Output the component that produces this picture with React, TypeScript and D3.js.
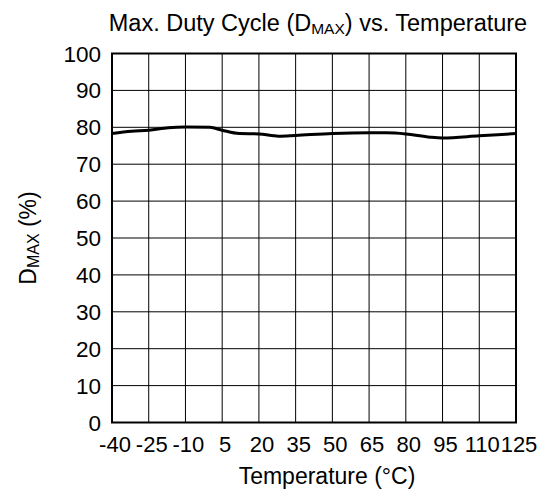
import React, { useEffect, useRef } from "react";
import * as d3 from "d3";

const xTicks = [-40, -25, -10, 5, 20, 35, 50, 65, 80, 95, 110, 125];
const yTicks = [0, 10, 20, 30, 40, 50, 60, 70, 80, 90, 100];
const temps = [-40, -32, -25, -17, -10, 0, 5, 12, 20, 28, 35, 50, 65, 72, 80, 90, 95, 110, 125];
const dmax = [78.3, 78.9, 79.2, 79.9, 80.1, 80.0, 79.2, 78.3, 78.2, 77.6, 77.8, 78.3, 78.5, 78.5, 78.2, 77.3, 77.1, 77.7, 78.3];

const W = 548, H = 489;
const m = { left: 112, right: 516, top: 53.5, bottom: 422.5 };
const FONT = "'Liberation Sans', Arial, sans-serif";

export default function App() {
  const ref = useRef<SVGSVGElement>(null);
  useEffect(() => {
    const svg = d3.select(ref.current);
    svg.selectAll("*").remove();
    const x = d3.scaleLinear().domain([-40, 125]).range([m.left, m.right]);
    const y = d3.scaleLinear().domain([0, 100]).range([m.bottom, m.top]);

    const g = svg.append("g");
    // grid
    g.selectAll(".vg").data(xTicks).enter().append("line")
      .attr("x1", d => x(d)).attr("x2", d => x(d))
      .attr("y1", m.top).attr("y2", m.bottom)
      .attr("stroke", "#000").attr("stroke-width", 1);
    g.selectAll(".hg").data(yTicks).enter().append("line")
      .attr("x1", m.left).attr("x2", m.right)
      .attr("y1", d => y(d)).attr("y2", d => y(d))
      .attr("stroke", "#000").attr("stroke-width", 1);
    // border
    g.append("rect").attr("x", m.left).attr("y", m.top)
      .attr("width", m.right - m.left).attr("height", m.bottom - m.top)
      .attr("fill", "none").attr("stroke", "#000").attr("stroke-width", 2);

    // tick labels
    g.selectAll(".yl").data(yTicks).enter().append("text")
      .attr("x", m.left - 11).attr("y", d => y(d) + 8)
      .attr("text-anchor", "end").attr("font-family", FONT).attr("font-size", 22.5)
      .text(d => String(d));
    g.selectAll(".xl").data(xTicks).enter().append("text")
      .attr("x", d => x(d) + 3).attr("y", 452)
      .attr("text-anchor", "middle").attr("font-family", FONT).attr("font-size", 22)
      .text(d => String(d));

    // data line
    const line = d3.line<number>()
      .x((_, i) => x(temps[i])).y(d => y(d))
      .curve(d3.curveMonotoneX);
    g.append("path").datum(dmax).attr("d", line)
      .attr("fill", "none").attr("stroke", "#000").attr("stroke-width", 3);

    // title
    const t = g.append("text").attr("x", 318).attr("y", 31)
      .attr("text-anchor", "middle").attr("font-family", FONT).attr("font-size", 23.5);
    t.append("tspan").text("Max. Duty Cycle (D");
    t.append("tspan").attr("font-size", 15.5).attr("dy", 3).text("MAX");
    t.append("tspan").attr("dy", -3).text(") vs. Temperature");

    // x axis title
    g.append("text").attr("x", 327).attr("y", 484)
      .attr("text-anchor", "middle").attr("font-family", FONT).attr("font-size", 23)
      .text("Temperature (°C)");

    // y axis title
    const yt = g.append("text")
      .attr("transform", `translate(36,${(m.top + m.bottom) / 2}) rotate(-90)`)
      .attr("text-anchor", "middle").attr("font-family", FONT).attr("font-size", 23);
    yt.append("tspan").text("D");
    yt.append("tspan").attr("font-size", 16).attr("dy", 3).text("MAX");
    yt.append("tspan").attr("dy", -3).text(" (%)");
  }, []);
  return (
    <svg ref={ref} width={W} height={H}
      style={{ position: "absolute", left: 0, top: 0, background: "#fff" }} />
  );
}
